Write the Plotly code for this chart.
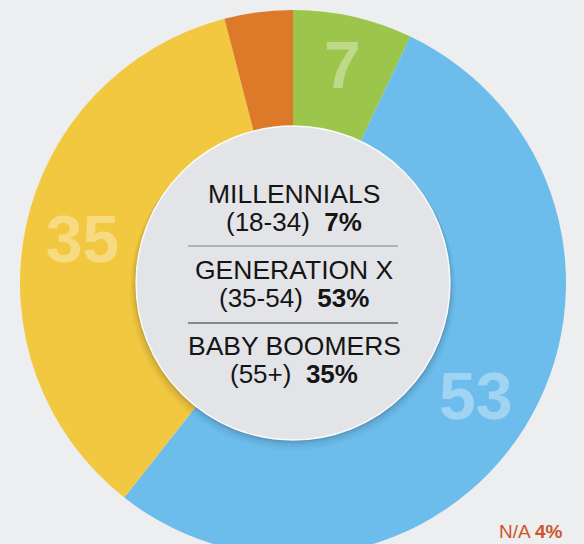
import plotly.graph_objects as go

# ---- data ----
categories = ["Millennials (18-34)", "Generation X (35-54)", "Baby Boomers (55+)", "N/A"]
values = [7, 53, 35, 4]
slice_text = ["7", "53", "35", ""]
center_titles = ["MILLENNIALS", "GENERATION X", "BABY BOOMERS"]
center_ranges = ["(18-34)", "(35-54)", "(55+)"]
center_pcts = ["7%", "53%", "35%"]
na_label = "N/A"
na_pct = "4%"

colors = ["#9bc54b", "#6dbdec", "#f2c840", "#dd7a2a"]

# ---- layout geometry (pixels) ----
W, H = 584, 556
ML, MR, MT, MB = 2, 0, 10, 0
PW, PH = W - ML - MR, H - MT - MB
R_OUT = min(PW, PH) / 2
CX, CY = ML + PW / 2, MT + PH / 2
HOLE = 0.575
R_IN = R_OUT * HOLE

def px(x):
    return (x - ML) / PW

def py(y):
    return 1 - (y - MT) / PH

FONT = "Liberation Sans, Arial, Helvetica, sans-serif"

fig = go.Figure()
fig.add_trace(go.Pie(
    labels=categories,
    values=values,
    text=slice_text,
    textinfo="text",
    textposition="inside",
    insidetextorientation="horizontal",
    textfont=dict(family=FONT, size=66, color="rgba(255,255,255,0.35)", weight="bold"),
    marker=dict(colors=colors, line=dict(width=0)),
    hole=HOLE,
    sort=False,
    direction="clockwise",
    rotation=0,
    showlegend=False,
    hoverinfo="label+value",
    domain=dict(x=[0, 1], y=[0, 1]),
))

shapes = []
# soft shadow of the centre disc
for d, a in [(10, 0.03), (7, 0.04), (4, 0.06), (2, 0.08)]:
    shapes.append(dict(type="circle", xref="paper", yref="paper", layer="above",
                       x0=px(CX - R_IN - d * 0.6), x1=px(CX + R_IN + d * 0.6),
                       y0=py(CY + R_IN + d), y1=py(CY - R_IN + d * 0.2),
                       fillcolor=f"rgba(0,0,0,{a})", line=dict(width=0)))
# centre disc
shapes.append(dict(type="circle", xref="paper", yref="paper", layer="above",
                   x0=px(CX - R_IN), x1=px(CX + R_IN),
                   y0=py(CY + R_IN), y1=py(CY - R_IN),
                   fillcolor="#e3e4e8", line=dict(color="rgba(255,255,255,0.9)", width=1.5)))
# separators
for yy, col in [(246, "#a2a2a4"), (323, "#6a6a6c")]:
    shapes.append(dict(type="line", xref="paper", yref="paper", layer="above",
                       x0=px(188), x1=px(398), y0=py(yy), y1=py(yy),
                       line=dict(color=col, width=1.3)))

annotations = []
title_y = [194, 270, 346]
sub_y = [222, 298, 374]
for t, r, p, ty, sy in zip(center_titles, center_ranges, center_pcts, title_y, sub_y):
    annotations.append(dict(xref="paper", yref="paper", x=px(294), y=py(ty),
                            text=t, showarrow=False, xanchor="center", yanchor="middle",
                            font=dict(family=FONT, size=26.5, color="#151515")))
    annotations.append(dict(xref="paper", yref="paper", x=px(294), y=py(sy),
                            text=f"{r}\u00a0\u00a0<b>{p}</b>", showarrow=False,
                            xanchor="center", yanchor="middle",
                            font=dict(family=FONT, size=26, color="#151515")))
annotations.append(dict(xref="paper", yref="paper", x=px(564), y=py(531),
                        text=f"{na_label} <b>{na_pct}</b>", showarrow=False,
                        xanchor="right", yanchor="middle",
                        font=dict(family=FONT, size=19, color="#cf5527")))

fig.update_layout(
    width=W, height=H,
    margin=dict(l=ML, r=MR, t=MT, b=MB, pad=0),
    paper_bgcolor="#eceef0",
    plot_bgcolor="#eceef0",
    shapes=shapes,
    annotations=annotations,
    showlegend=False,
)

fig.write_html(
    "out.html",
    config={"displayModeBar": False},
    post_script="document.body.style.margin='0';document.body.style.overflow='hidden';"
                "document.documentElement.style.background='#eceef0';",
)
